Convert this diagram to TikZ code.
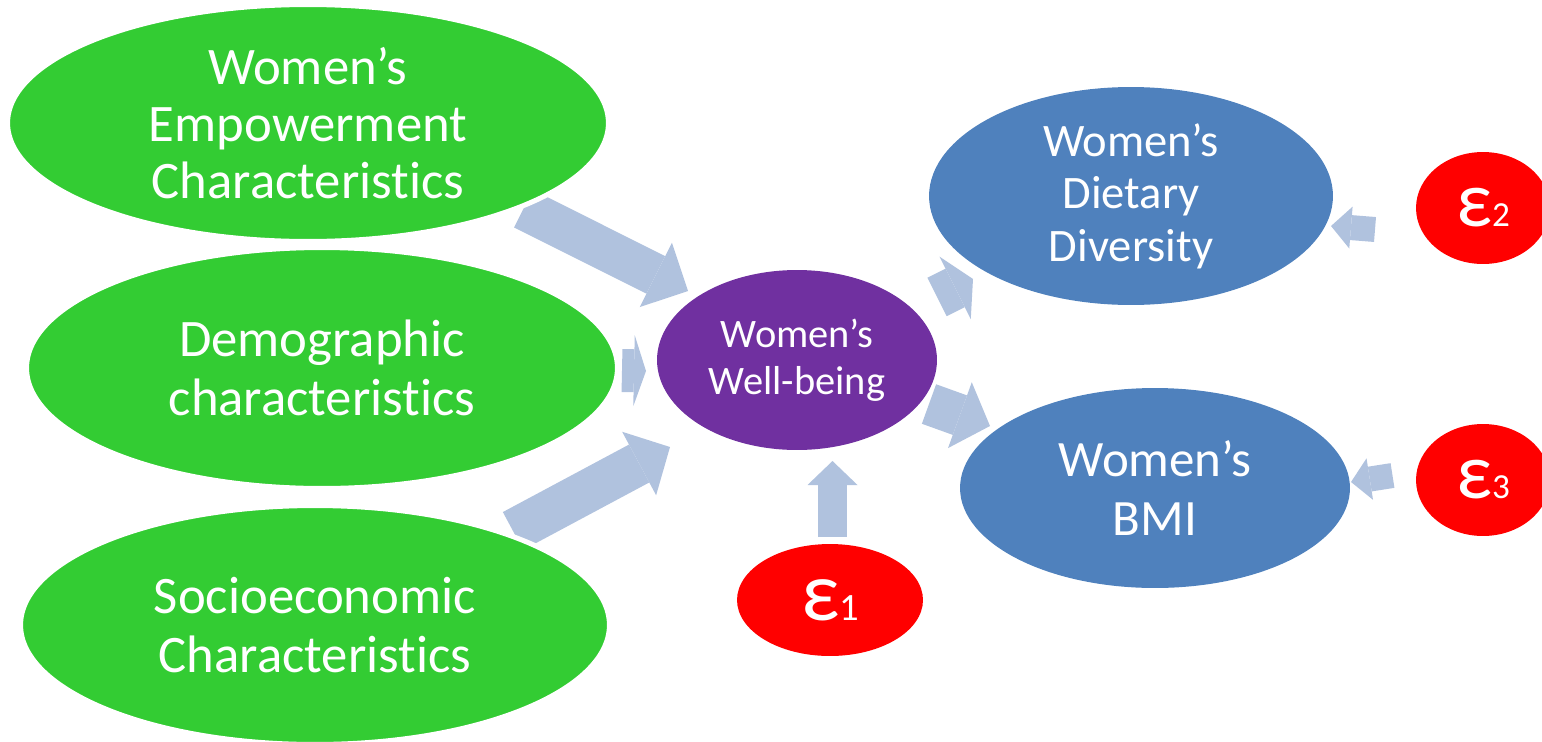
\documentclass[tikz,border=0pt]{standalone}
\usepackage{fontspec}
\setmainfont{Carlito}[Ligatures={NoCommon,NoContextual,NoRare}, Contextuals=NoAlternate]
\usetikzlibrary{shapes.geometric,arrows.meta,backgrounds}
\definecolor{grn}{HTML}{33CC33}
\definecolor{prp}{HTML}{7030A0}
\definecolor{blu}{HTML}{4F81BD}
\definecolor{rd}{HTML}{FF0000}
\definecolor{arrowc}{HTML}{B0C2DE}
\begin{document}
\begin{tikzpicture}[x=0.02cm,y=-0.02cm,
  oval/.style={ellipse, inner sep=0pt, outer sep=0pt, text=white, align=center},
  greenoval/.style={oval, fill=grn, draw=white, line width=0.1cm,
    font=\fontsize{30}{33.5}\selectfont},
  purpleoval/.style={oval, fill=prp, font=\fontsize{23}{26.7}\selectfont},
  blueoval/.style={oval, fill=blu},
  erroval/.style={oval, fill=rd, minimum width=3.72cm, minimum height=2.24cm},
  barrow/.style n args={3}{draw=arrowc, line width=#1cm, line cap=butt,
    -{Triangle[width=#2cm, length=#3cm, line width=0pt]}},
]
\useasboundingbox (0,0) rectangle (1542,741);

\node[greenoval, minimum width=12.02cm, minimum height=4.74cm,
  font=\fontsize{30}{32.6}\selectfont] (emp) at (308,123)
  {Women’s\\Empowerment\\Characteristics};
\node[greenoval, minimum width=11.82cm, minimum height=4.82cm] (demo) at (322,368)
  {Demographic\\characteristics};
\node[greenoval, minimum width=11.78cm, minimum height=4.78cm] (socio) at (315,625)
  {Socioeconomic\\Characteristics};
\node[purpleoval, minimum width=5.60cm, minimum height=3.60cm] (wb) at (797,360)
  {Women’s\\Well-being};
\node[blueoval, minimum width=8.08cm, minimum height=4.36cm,
  font=\fontsize{26.5}{29.8}\selectfont] (diet) at (1131,196)
  {Women’s\\Dietary\\Diversity};
\node[blueoval, minimum width=7.80cm, minimum height=4.00cm,
  font=\fontsize{29}{33.5}\selectfont] (bmi) at (1155,488)
  {Women’s\\BMI};
\node[erroval] (e1) at (830,600)
  {{\fontsize{48}{48}\selectfont ε}{\fontsize{22}{22}\selectfont 1}};
\node[erroval, minimum width=2.68cm] (e2) at (1483,208)
  {{\fontsize{45}{45}\selectfont ε}{\fontsize{20}{20}\selectfont 2}};
\node[erroval, minimum width=2.68cm] (e3) at (1483,480)
  {{\fontsize{45}{45}\selectfont ε}{\fontsize{20}{20}\selectfont 3}};

\begin{scope}[on background layer]
\draw[barrow={0.84}{1.44}{0.72}] ([shift={(215.5,85.7)}]emp.center) -- ([shift={(-109,-69)}]wb.center);
\draw[barrow={0.86}{1.42}{0.24}] ([shift={(300,2.5)}]demo.center) -- ([shift={(-151,11)}]wb.center);
\draw[barrow={0.86}{1.44}{0.70}] ([shift={(198,-94)}]socio.center) -- ([shift={(-127,87)}]wb.center);
\draw[barrow={0.86}{1.40}{0.40}] ([shift={(140,-63)}]wb.center) -- ([shift={(-158,83)}]diet.center);
\draw[barrow={0.84}{1.40}{0.64}] ([shift={(132,44)}]wb.center) -- ([shift={(-165,-62)}]bmi.center);
\draw[barrow={0.58}{1.00}{0.48}] ([shift={(2.5,-63)}]e1.center) -- ([shift={(35.5,101)}]wb.center);
\draw[barrow={0.50}{0.84}{0.40}] ([shift={(-108,21.5)}]e2.center) -- ([shift={(200,30)}]diet.center);
\draw[barrow={0.50}{0.84}{0.38}] ([shift={(-90.5,-4.5)}]e3.center) -- ([shift={(196,-6)}]bmi.center);
\end{scope}
\end{tikzpicture}
\end{document}
